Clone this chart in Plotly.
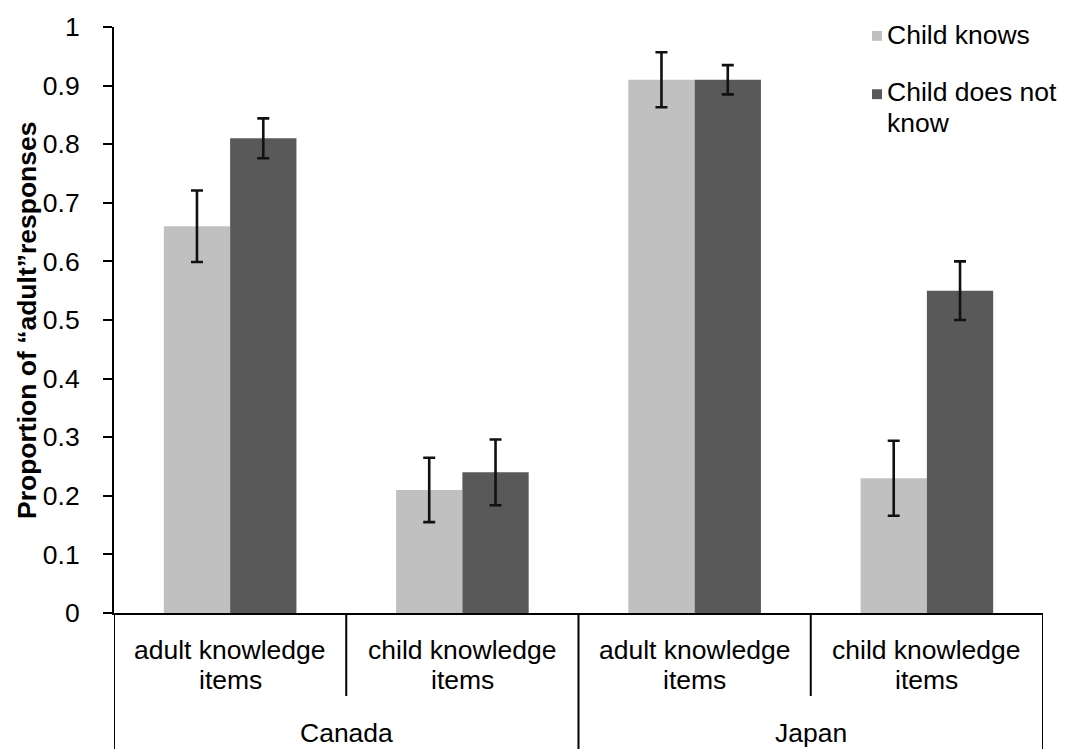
import plotly.graph_objects as go

# Grouped bar data: proportion of "adult" responses by country and item type
countries = ["Canada", "Canada", "Japan", "Japan"]
item_line1 = ["adult knowledge", "child knowledge", "adult knowledge", "child knowledge"]
item_line2 = ["items", "items", "items", "items"]
categories = [f"{c} | {a} {b}" for c, a, b in zip(countries, item_line1, item_line2)]

knows_vals = [0.66, 0.21, 0.91, 0.23]
knows_err = [0.061, 0.055, 0.047, 0.064]
notknow_vals = [0.81, 0.24, 0.91, 0.55]
notknow_err = [0.034, 0.056, 0.025, 0.050]

series_names = ["Child knows", "Child does not know"]
legend_lines = [["Child knows"], ["Child does not", "know"]]
series_colors = ["#C0C0C0", "#595959"]

FONT = "Liberation Sans, Arial, sans-serif"
FS = 26.5

fig = go.Figure()
for name, vals, errs, color in zip(series_names,
                                   [knows_vals, notknow_vals],
                                   [knows_err, notknow_err],
                                   series_colors):
    fig.add_trace(go.Bar(
        x=categories, y=vals, name=name,
        marker=dict(color=color, line=dict(width=0)),
        error_y=dict(type="data", array=errs, visible=True,
                     color="#111111", thickness=2.6, width=6),
        showlegend=False,
    ))

# plot area geometry in pixels (used to convert label positions to paper units)
W, H = 1073, 749
L, R, T, B = 114, 30, 20, 136
plot_h = H - T - B
plot_w = W - L - R


def py(ypx):
    return (H - B - ypx) / plot_h


def px(xpx):
    return (xpx - L) / plot_w


def label(x, xref, ypx, text, xanchor="center"):
    return dict(x=x, xref=xref, y=py(ypx), yref="paper", text=text, showarrow=False,
                xanchor=xanchor, yanchor="middle",
                font=dict(family=FONT, size=FS, color="#000"))


annotations = []
# two-line item labels under each category
for i, (a, b) in enumerate(zip(item_line1, item_line2)):
    annotations.append(label(categories[i], "x", 650, a))
    annotations.append(label(categories[i], "x", 681, b))
# country labels centred under each pair of categories
for j, c in enumerate(["Canada", "Japan"]):
    annotations.append(label(2 * j + 0.5, "x", 734, c))
# y-axis title
annotations.append(dict(x=px(27), xref="paper", y=0.5, yref="paper",
                        text="<b>Proportion of “adult”responses</b>", textangle=-90,
                        showarrow=False, xanchor="center", yanchor="middle",
                        font=dict(family=FONT, size=FS, color="#000")))

shapes = []
# category dividers below the x axis
for xv, y_end in [(-0.5, py(752)), (0.5, py(697)), (1.5, py(752)), (2.5, py(697)), (3.5, py(752))]:
    shapes.append(dict(type="line", xref="x", yref="paper", x0=xv, x1=xv, y0=0, y1=y_end,
                       line=dict(color="#000", width=2)))

# legend drawn as swatches + labels at the top right
legend_rows = [(28, 29), (86, 88)]
for (ytext, ysw), lines, color in zip(legend_rows, legend_lines, series_colors):
    half = 5 / plot_h
    shapes.append(dict(type="rect", xref="paper", yref="paper",
                       x0=px(872), x1=px(882), y0=py(ysw) - half, y1=py(ysw) + half,
                       fillcolor=color, line=dict(width=0)))
    for k, ln in enumerate(lines):
        annotations.append(label(px(885), "paper", ytext + 31 * k, ln, xanchor="left"))

fig.update_layout(
    width=W, height=H,
    margin=dict(l=L, r=R, t=T, b=B),
    paper_bgcolor="white", plot_bgcolor="white",
    barmode="group", bargap=0.429, bargroupgap=0,
    font=dict(family=FONT, size=FS, color="#000"),
    annotations=annotations, shapes=shapes,
    xaxis=dict(type="category", range=[-0.5, 3.5], showticklabels=False, ticks="",
               showline=True, linecolor="#000", linewidth=2, showgrid=False, zeroline=False),
    yaxis=dict(range=[0, 1], dtick=0.1, tick0=0, showline=True, linecolor="#000", linewidth=2,
               ticks="outside", ticklen=9, tickwidth=2, tickcolor="#000",
               ticklabelstandoff=18, showgrid=False, zeroline=False,
               tickfont=dict(family=FONT, size=FS, color="#000")),
    showlegend=False,
)

fig.write_html("out.html")
